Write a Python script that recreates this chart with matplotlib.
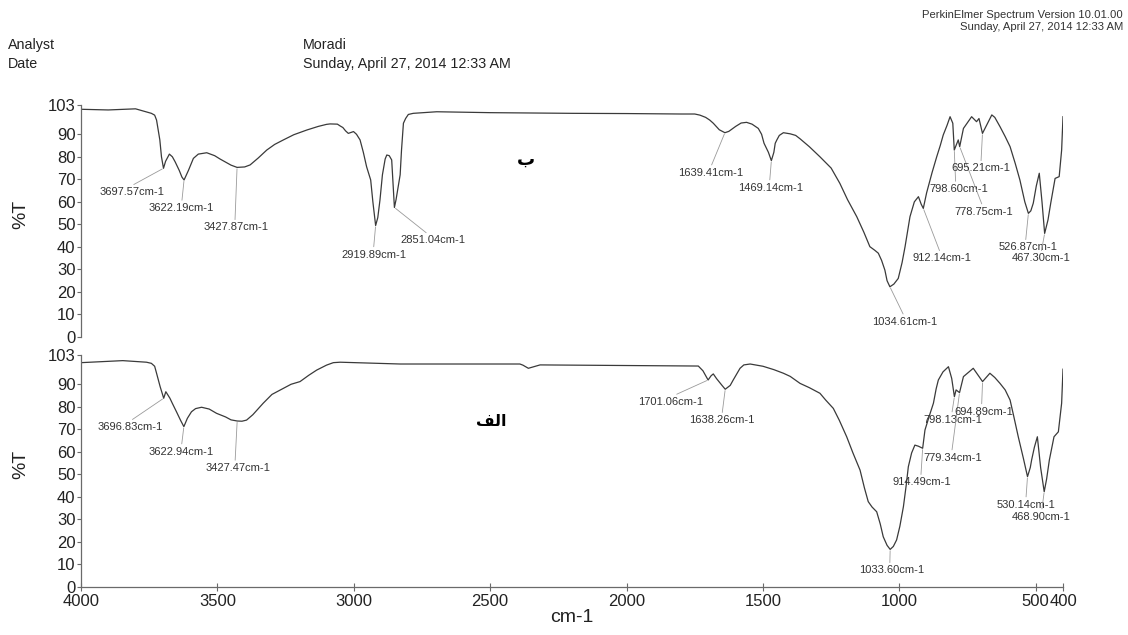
import numpy as np
import matplotlib
matplotlib.use("Agg")
import matplotlib.pyplot as plt

# --- data -------------------------------------------------------------------

# top spectrum (ب)
wn_top = [4000, 3900, 3800, 3742, 3730, 3723, 3711, 3705, 3697.57, 3690,
          3676, 3665, 3655, 3640, 3630, 3622.19, 3606, 3588, 3570, 3539,
          3510, 3490, 3466, 3450, 3427.87, 3400, 3380, 3350, 3319, 3290,
          3258, 3220, 3172, 3130, 3100, 3087, 3060, 3050, 3040, 3030,
          3020, 3001, 2990, 2977, 2965, 2953, 2938, 2930, 2919.89, 2912,
          2904, 2895, 2885, 2879, 2870, 2861, 2856, 2851.04, 2845, 2830,
          2825, 2818, 2810, 2800, 2782, 2696, 2500, 2200, 2000, 1800,
          1750, 1731, 1710, 1695, 1682, 1660, 1639.41, 1625, 1600, 1580,
          1560, 1540, 1517, 1505, 1496, 1480, 1469.14, 1460, 1455, 1449,
          1440, 1425, 1400, 1380, 1364, 1330, 1291, 1250, 1218, 1190,
          1156, 1130, 1108, 1090, 1077, 1065, 1053, 1045, 1034.61, 1020,
          1004, 990, 979, 961, 945, 930, 920, 912.14, 900, 894,
          880, 863, 850, 839, 825, 814, 804, 798.6, 784, 778.75,
          765, 735, 717, 708, 695.21, 661, 650, 631, 612, 594,
          575, 558, 540, 526.87, 518, 509, 498, 487, 477, 467.3,
          455, 445, 429, 414, 405, 400]
t_top = [101.1, 100.8, 101.3, 99.3, 98.5, 96.3, 87.5, 80.0, 74.9, 78.0,
         81.2, 80.0, 77.8, 74.0, 71.0, 69.7, 74.0, 79.3, 81.2, 81.8,
         80.5, 79.0, 77.4, 76.3, 75.3, 75.5, 76.4, 79.5, 83.0, 85.5,
         87.5, 89.8, 91.9, 93.5, 94.4, 94.6, 94.5, 93.7, 93.0, 91.5,
         90.4, 91.2, 90.0, 87.5, 82.0, 75.6, 69.7, 60.0, 49.5, 53.0,
         60.8, 72.0, 79.0, 80.8, 80.5, 78.6, 68.0, 57.5, 61.0, 72.0,
         83.0, 94.9, 97.0, 98.8, 99.3, 100.0, 99.6, 99.3, 99.2, 99.0,
         99.0, 98.5, 97.5, 96.3, 94.9, 92.0, 90.7, 91.3, 93.5, 95.0,
         95.3, 94.5, 92.6, 90.0, 86.0, 82.0, 78.3, 82.0, 86.0, 87.5,
         89.5, 90.7, 90.2, 89.5, 88.0, 84.5, 80.0, 75.0, 68.2, 61.0,
         53.4, 46.5, 40.1, 38.5, 37.2, 34.0, 29.7, 25.0, 22.3, 23.5,
         26.0, 33.0, 40.1, 53.4, 60.0, 62.3, 59.0, 57.1, 64.0, 66.7,
         73.0, 80.0, 85.0, 89.7, 94.0, 97.8, 94.9, 83.0, 87.5, 84.5,
         92.6, 97.8, 95.6, 97.0, 90.4, 98.6, 97.5, 93.4, 89.0, 84.5,
         77.0, 69.7, 60.0, 54.9, 56.0, 59.4, 67.0, 72.7, 60.0, 46.0,
         52.0, 59.4, 70.4, 71.2, 83.0, 97.8]

# bottom spectrum (الف)
wn_bot = [4000, 3847, 3760, 3742, 3730, 3723, 3710, 3696.83, 3689, 3674,
          3665, 3650, 3635, 3622.94, 3610, 3595, 3580, 3558, 3530, 3503,
          3470, 3450, 3427.47, 3410, 3393, 3370, 3332, 3300, 3258, 3230,
          3197, 3165, 3136, 3100, 3075, 3050, 2830, 2391, 2380, 2360,
          2317, 1737, 1720, 1701.06, 1690, 1682, 1670, 1650, 1638.26, 1620,
          1609, 1584, 1570, 1547, 1500, 1460, 1425, 1400, 1364, 1330,
          1291, 1270, 1242, 1220, 1193, 1170, 1144, 1128, 1114, 1100,
          1083, 1070, 1059, 1045, 1033.6, 1022, 1010, 998, 985, 975,
          967, 955, 943, 930, 914.49, 906, 890, 875, 865, 857,
          840, 820, 808, 798.13, 792, 779.34, 765, 729, 694.89, 668,
          650, 631, 612, 594, 580, 564, 545, 530.14, 520, 515,
          505, 494, 482, 468.9, 460, 450, 433, 417, 405, 400]
t_bot = [99.6, 100.5, 99.8, 99.3, 98.0, 94.9, 89.0, 83.8, 86.7, 83.8,
         81.5, 77.8, 74.0, 71.2, 74.9, 77.8, 79.2, 79.8, 79.0, 77.1,
         75.5, 74.2, 73.7, 73.6, 74.1, 76.5, 81.6, 85.5, 88.2, 90.0,
         91.2, 94.0, 96.3, 98.5, 99.6, 99.8, 99.0, 99.0, 98.5, 97.1,
         98.6, 98.1, 96.0, 91.9, 93.8, 94.6, 92.5, 89.5, 87.8, 89.5,
         91.9, 97.1, 98.6, 99.0, 98.0, 96.5, 94.9, 93.5, 90.4, 88.5,
         86.0, 83.0, 79.3, 74.0, 66.7, 59.5, 51.9, 44.0, 37.9, 35.5,
         33.4, 28.0, 22.3, 18.5, 16.7, 18.0, 20.9, 27.0, 35.7, 45.0,
         53.4, 59.5, 63.0, 62.5, 61.6, 69.7, 76.0, 81.6, 88.0, 91.9,
         95.5, 97.8, 92.6, 84.5, 87.5, 86.3, 93.4, 97.1, 91.2, 94.9,
         93.0, 90.4, 87.5, 83.0, 75.5, 66.7, 57.0, 49.0, 53.0, 56.4,
         62.0, 66.7, 53.0, 42.3, 48.0, 56.4, 66.7, 68.9, 81.6, 96.7]

top_peaks = [3697.57, 3622.19, 3427.87, 2919.89, 2851.04, 1639.41, 1469.14,
             1034.61, 912.14, 798.60, 778.75, 695.21, 526.87, 467.30]
bot_peaks = [3696.83, 3622.94, 3427.47, 1701.06, 1638.26, 1033.60, 914.49,
             798.13, 779.34, 694.89, 530.14, 468.90]

x_ticks = [4000, 3500, 3000, 2500, 2000, 1500, 1000, 500, 400]
y_ticks = [0, 10, 20, 30, 40, 50, 60, 70, 80, 90, 103]

# panel tags; bottom one written with presentation forms so it joins
tag_top = "\u0628"
tag_bot = "\ufed2\ufedf\ufe8d"  # الف

# --- layout -----------------------------------------------------------------

# label offsets from the peak in pixels (dx, dy) and where the leader meets the text
top_offsets = [(-64, -24), (-35, -28), (-34, -60), (-34, -29), (6, -33),
               (-47, -40), (-33, -27), (-18, -35), (-11, -50), (-25, -39),
               (-5, -65), (-31, -35), (-30, -34), (-33, -25)]
top_relx = [0.45, 0.5, 0.49, 0.49, 0.45, 0.5, 0.48, 0.5, 0.48, 0.45,
            0.48, 0.5, 0.46, 0.5]
bot_offsets = [(-66, -29), (-35, -25), (-32, -47), (-70, -22), (-36, -31),
               (-31, -21), (-30, -34), (-31, -23), (-36, -65), (-28, -30),
               (-31, -28), (-32, -25)]
bot_relx = [0.47, 0.5, 0.46, 0.5, 0.5, 0.47, 0.48, 0.48, 0.48, 0.46,
            0.5, 0.5]

LINE = "#3a3a3a"
AXIS = "#6a6a6a"
LEAD = "#9a9a9a"
FONT = "Liberation Sans"

plt.rcParams["font.family"] = [FONT, "DejaVu Sans"]


def draw_panel(ax, wn, t, peaks, offsets, relx, bottom_axis):
    ax.plot(wn, t, color=LINE, lw=0.9, solid_joinstyle="round")
    ax.set_xlim(4000, 400)
    ax.set_ylim(0, 103)
    for s in ["top", "right"]:
        ax.spines[s].set_visible(False)
    ax.spines["left"].set_color(AXIS)
    ax.spines["left"].set_linewidth(0.9)
    ax.set_yticks(y_ticks)
    ax.set_yticklabels([str(v) for v in y_ticks])
    ax.tick_params(axis="y", direction="out", length=3, pad=1,
                   labelsize=12, color=AXIS, labelcolor="#222222")
    if bottom_axis:
        ax.spines["bottom"].set_color(AXIS)
        ax.spines["bottom"].set_linewidth(0.9)
        ax.set_xticks(x_ticks)
        ax.set_xticklabels([str(v) for v in x_ticks])
        ax.tick_params(axis="x", direction="inout", length=6, pad=2,
                       labelsize=12, color=AXIS, labelcolor="#222222")
        ax.set_xlabel("cm-1", fontsize=14, labelpad=0, color="#222222")
    else:
        ax.spines["bottom"].set_visible(False)
        ax.set_xticks([])
    ax.set_ylabel("%T", fontsize=14, labelpad=6, color="#222222")
    ax.yaxis.set_label_coords(-0.053, 0.53)

    wn_sorted = np.array(wn)[::-1]
    t_sorted = np.array(t)[::-1]
    for p, (dx, dy), rx in zip(peaks, offsets, relx):
        ty = np.interp(p, wn_sorted, t_sorted)
        ax.annotate(f"{p:.2f}cm-1", xy=(p, ty), xytext=(dx, dy),
                    textcoords="offset pixels", ha="left", va="center",
                    fontsize=8, color="#333333",
                    arrowprops=dict(arrowstyle="-", color=LEAD, lw=0.6,
                                    shrinkA=0, shrinkB=1, relpos=(rx, 1.0)))


fig = plt.figure(figsize=(11.28, 6.35), dpi=100)
left, width = 81 / 1128, (1063 - 81) / 1128
ax_top = fig.add_axes([left, 1 - 337 / 635, width, 232 / 635])
ax_bot = fig.add_axes([left, 1 - 587 / 635, width, 232 / 635])

draw_panel(ax_top, wn_top, t_top, top_peaks, top_offsets, top_relx, False)
draw_panel(ax_bot, wn_bot, t_bot, bot_peaks, bot_offsets, bot_relx, True)

# panel tags
fig.text(526 / 1128, 1 - 160 / 635, tag_top, fontsize=13, fontweight="bold",
         family="DejaVu Sans", ha="center", va="center")
fig.text(491 / 1128, 1 - 421 / 635, tag_bot, fontsize=11.5, fontweight="bold",
         family="DejaVu Sans", ha="center", va="center")

# header
hdr = dict(fontsize=10.3, color="#222222", va="center")
fig.text(8 / 1128, 1 - 45 / 635, "Analyst", ha="left", **hdr)
fig.text(8 / 1128, 1 - 64 / 635, "Date", ha="left", **hdr)
fig.text(303 / 1128, 1 - 45 / 635, "Moradi", ha="left", **hdr)
fig.text(303 / 1128, 1 - 64 / 635, "Sunday, April 27, 2014 12:33 AM", ha="left", **hdr)
fig.text(1123 / 1128, 1 - 15 / 635, "PerkinElmer Spectrum Version 10.01.00",
         ha="right", fontsize=8.1, color="#333333", va="center")
fig.text(1123 / 1128, 1 - 27 / 635, "Sunday, April 27, 2014 12:33 AM",
         ha="right", fontsize=8.1, color="#333333", va="center")

fig.savefig("out.png", dpi=100)
